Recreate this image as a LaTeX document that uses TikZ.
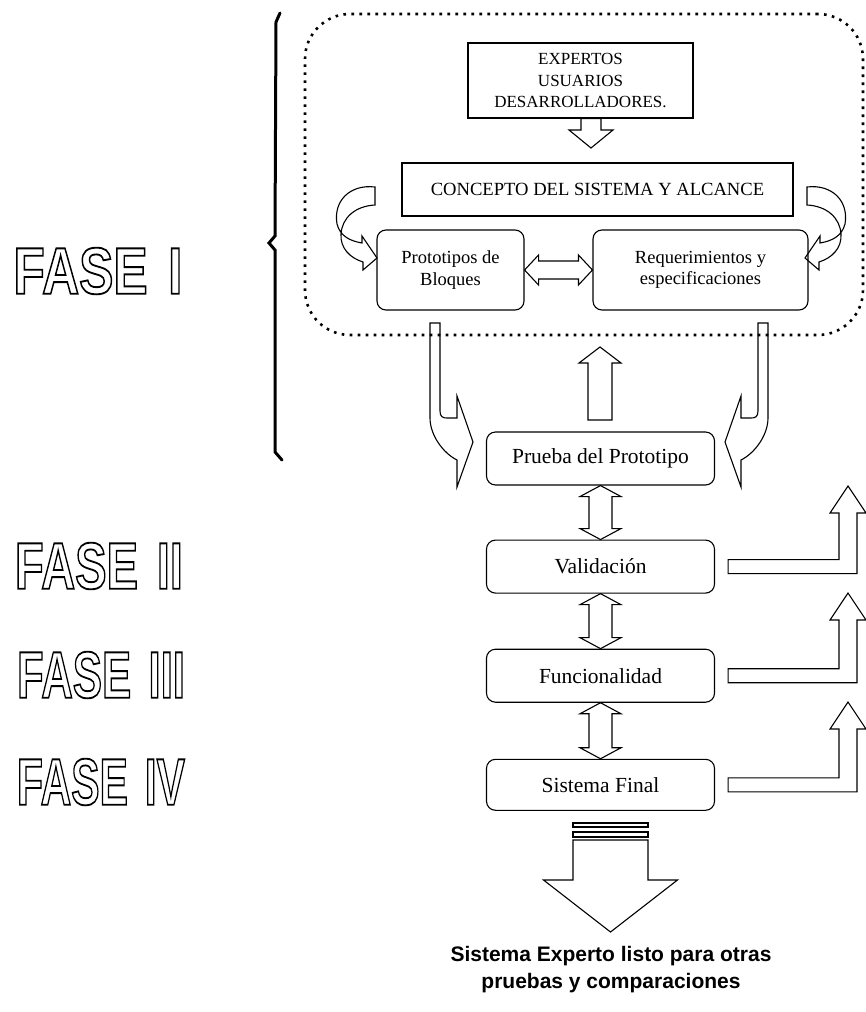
\documentclass[tikz,border=0pt]{standalone}
\usepackage{fontspec}
\setmainfont{Liberation Serif}
\newfontfamily\captionfont{Liberation Sans}
\usetikzlibrary{positioning, calc}
\newcommand{\outlinetext}[1]{\special{pdf:literal direct 1 Tr 1.8 w}#1\special{pdf:literal direct 0 Tr}}

\begin{document}
\begin{tikzpicture}[x=1pt, y=-1pt,
      sqbox/.style={draw, line width=1.1pt, align=center, inner sep=2pt},
      rbox/.style={draw, line width=1.1pt, rounded corners=9pt, align=center, minimum width=228pt,
      minimum height=53pt, font=\fontsize{21.5}{25}\selectfont},
      dotframe/.style={draw, rounded corners=45pt, line width=2.6pt, dash pattern=on 2.6pt off 5.4pt},
      fase/.style={inner sep=0pt, font=\captionfont\bfseries\fontsize{64}{64}\selectfont},
      caption/.style={align=center, font=\captionfont\bfseries\fontsize{21}{27}\selectfont},
      blk/.style={draw, line width=1.1pt, line join=miter},
      arrowto/.style args={#1/#2/#3}{to path={
        ($(\tikztostart)!#1!90:(\tikztotarget)$)
        -- ($($(\tikztotarget)!#3!(\tikztostart)$)!#1!90:(\tikztotarget)$)
        -- ($($(\tikztotarget)!#3!(\tikztostart)$)!#2!90:(\tikztotarget)$)
        -- (\tikztotarget)
        -- ($($(\tikztotarget)!#3!(\tikztostart)$)!#2!-90:(\tikztotarget)$)
        -- ($($(\tikztotarget)!#3!(\tikztostart)$)!#1!-90:(\tikztotarget)$)
        -- ($(\tikztostart)!#1!-90:(\tikztotarget)$)
        -- cycle}},
      dblto/.style args={#1/#2/#3}{to path={
        (\tikztostart)
        -- ($($(\tikztostart)!#3!(\tikztotarget)$)!#2!90:(\tikztotarget)$)
        -- ($($(\tikztostart)!#3!(\tikztotarget)$)!#1!90:(\tikztotarget)$)
        -- ($($(\tikztotarget)!#3!(\tikztostart)$)!#1!90:(\tikztotarget)$)
        -- ($($(\tikztotarget)!#3!(\tikztostart)$)!#2!90:(\tikztotarget)$)
        -- (\tikztotarget)
        -- ($($(\tikztotarget)!#3!(\tikztostart)$)!#2!-90:(\tikztotarget)$)
        -- ($($(\tikztotarget)!#3!(\tikztostart)$)!#1!-90:(\tikztotarget)$)
        -- ($($(\tikztostart)!#3!(\tikztotarget)$)!#1!-90:(\tikztotarget)$)
        -- ($($(\tikztostart)!#3!(\tikztotarget)$)!#2!-90:(\tikztotarget)$)
        -- cycle}},
      bentto/.style={to path={let \p1=(\tikztostart), \p2=(\tikztotarget) in
        (\x1+13pt,\y1+7pt) -- (\x2-9pt,\y1+7pt) -- (\x2-9pt,\y2-27pt) -- (\x2-18pt,\y2-27pt) -- (\x2,\y2)
        -- (\x2+18pt,\y2-27pt) -- (\x2+9pt,\y2-27pt) -- (\x2+9pt,\y1-7pt) -- (\x1+13pt,\y1-7pt) -- cycle}},
      curvedarrow/.pic={
        \draw[blk] (0,-9) .. controls (-25,-12) and (-42,5) .. (-38,28) .. controls (-35,40) and (-25,45) .. (-13,47)
          -- (-13,40) -- (2,62) -- (-12,74) -- (-12,66) .. controls (-25,62) and (-35,52) .. (-34,38)
          .. controls (-33,22) and (-20,10) .. (0,9) -- cycle;
      },
      turnarrow/.pic={
        \draw[blk] (-5,0) -- (5,0) -- (5,88) .. controls (5,94) and (8,95) .. (12,95) -- (22,95) -- (22,73)
          -- (38,119) -- (22,164) -- (22,137) .. controls (8,130) and (-5,112) .. (-5,95) -- cycle;
      }
    ]
    \useasboundingbox (0,0) rectangle (866,1012);

    % fase I frame
    \node[dotframe, minimum width=558pt, minimum height=321pt] (faseuno) at (584,174.5) {};
    \draw[line width=3pt, line cap=round] (280,13) -- (276,22) -- (275,236) -- (269,243) -- (275,250)
      -- (275,452) -- (282,460);

    \node[fase] (f1) at (98,271) {\resizebox{169pt}{46pt}{\outlinetext{FASE\hspace{0.4em}I}}};
    \node[fase] (f2) at (99,566) {\resizebox{168pt}{46pt}{\outlinetext{FASE\hspace{0.4em}II}}};
    \node[fase] (f3) at (101,675) {\resizebox{168pt}{46pt}{\outlinetext{FASE\hspace{0.4em}III}}};
    \node[fase] (f4) at (101,782) {\resizebox{168pt}{46pt}{\outlinetext{FASE\hspace{0.4em}IV}}};

    \node[sqbox, minimum width=225pt, minimum height=75pt, font=\fontsize{17}{21.5}\selectfont] (expertos)
      at (580.5,80.5) {EXPERTOS\\USUARIOS\\DESARROLLADORES.};
    \node[sqbox, minimum width=391pt, minimum height=53pt, font=\fontsize{18.6}{22}\selectfont] (concepto)
      at (597.5,189.5) {CONCEPTO DEL SISTEMA Y ALCANCE};
    \node[rbox, minimum width=147pt, minimum height=80pt, font=\fontsize{18.5}{21.5}\selectfont] (prototipos)
      at (450.5,270) {Prototipos de\\Bloques};
    \node[rbox, minimum width=215pt, minimum height=80pt, font=\fontsize{18.5}{21.5}\selectfont] (requerimientos)
      at (700.5,270) {Requerimientos y\\especificaciones};

    \node[rbox] (prueba) at (600.5,458.5) {Prueba del Prototipo};
    \node[rbox, below=54pt of prueba] (validacion) {Validación};
    \node[rbox, below=55pt of validacion] (funcionalidad) {Funcionalidad};
    \node[rbox, below=56pt of funcionalidad, minimum height=51pt] (final) {Sistema Final};

    \node[caption] (resultado) at (611,970) {Sistema Experto listo para otras\\pruebas y comparaciones};

    \coordinate (exptip) at (591,148);
    \coordinate (upbase) at (600,420);
    \coordinate (uptip) at (600,347);
    \coordinate (bigtail) at (610.5,840);
    \coordinate (bigtip) at (610.5,932);
    \coordinate (tip2) at (848,486);
    \coordinate (tip3) at (848,593);
    \coordinate (tip4) at (848,702);

    \draw[blk] (expertos.south -| exptip) to[arrowto=10pt/22pt/18pt] (exptip);
    \draw[blk] (prototipos.east) to[dblto=9pt/15pt/14pt] (requerimientos.west);
    \pic at (375,196) {curvedarrow};
    \pic[xscale=-1] at (807,196) {curvedarrow};
    \pic at (435,323) {turnarrow};
    \pic[xscale=-1] at (763,323) {turnarrow};
    \draw[blk] (upbase) to[arrowto=12pt/21pt/16pt] (uptip);

    \draw[blk] (prueba.south) to[dblto=11.5pt/20.5pt/11pt] (validacion.north);
    \draw[blk] (validacion.south) to[dblto=11.5pt/20.5pt/11pt] (funcionalidad.north);
    \draw[blk] (funcionalidad.south) to[dblto=11.5pt/20.5pt/11pt] (final.north);

    \draw[blk] (validacion.east) to[bentto] (tip2);
    \draw[blk] (funcionalidad.east) to[bentto] (tip3);
    \draw[blk] (final.east) to[bentto] (tip4);

    \draw[blk] (573,823) rectangle (648,827);
    \draw[blk] (573,832) rectangle (648,837);
    \draw[blk] (bigtail) to[arrowto=37.5pt/67pt/52pt] (bigtip);
  \end{tikzpicture}
\end{document}
